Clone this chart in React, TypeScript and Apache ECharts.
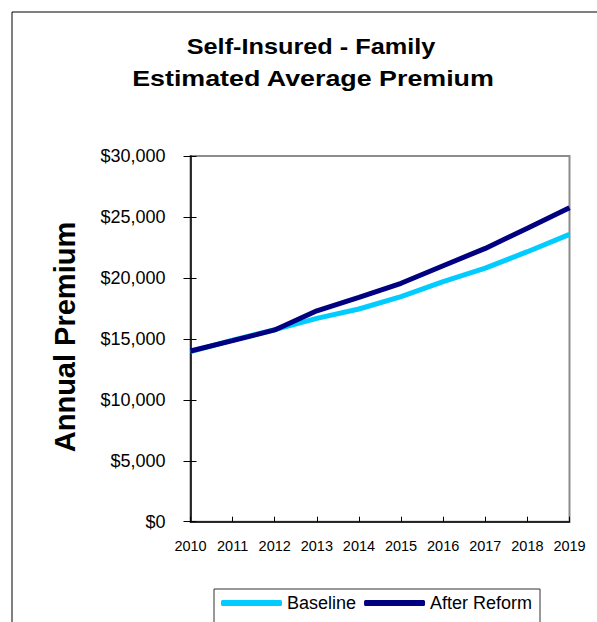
import React, { useEffect, useRef } from "react";
import * as echarts from "echarts";

const years = ["2010", "2011", "2012", "2013", "2014", "2015", "2016", "2017", "2018", "2019"];
const baseline = [13950, 14900, 15750, 16680, 17450, 18460, 19700, 20800, 22150, 23570];
const afterReform = [14000, 14850, 15730, 17300, 18400, 19560, 21000, 22420, 24070, 25760];
const titleLines = ["Self-Insured - Family", "Estimated Average Premium"];
const yTitle = "Annual Premium";
const seriesNames = ["Baseline", "After Reform"];

const FONT = "'Liberation Sans', Arial, sans-serif";

export default function App() {
  const ref = useRef<HTMLDivElement>(null);
  useEffect(() => {
    if (!ref.current) return;
    const chart = echarts.init(ref.current, null, { renderer: "svg" });
    const yAxisCommon = {
      type: "value",
      min: 0,
      max: 30000,
      interval: 5000,
      splitLine: { show: false },
    };
    chart.setOption({
      animation: false,
      backgroundColor: "#fff",
      grid: {
        left: 190.5,
        right: 27.5,
        top: 156,
        bottom: 100.3,
        show: true,
        borderColor: "#8c8c8c",
        borderWidth: 2,
        backgroundColor: "transparent",
      },
      xAxis: {
        type: "category",
        data: years,
        boundaryGap: false,
        axisLine: { lineStyle: { color: "#000", width: 1.5 } },
        axisTick: { inside: true, interval: 0, length: 5, lineStyle: { color: "#000", width: 1 } },
        axisLabel: {
          color: "#000",
          fontSize: 14.5,
          fontFamily: FONT,
          margin: 17,
          interval: 0,
          hideOverlap: false,
        },
        splitLine: { show: false },
      },
      yAxis: [
        {
          ...yAxisCommon,
          axisLine: { show: true, lineStyle: { color: "#000", width: 1.5 } },
          axisTick: { show: true, length: 7, lineStyle: { color: "#000", width: 1 } },
          axisLabel: {
            color: "#000",
            fontSize: 18,
            fontFamily: FONT,
            margin: 25,
            formatter: (v: number) => "$" + v.toLocaleString("en-US"),
          },
        },
        {
          ...yAxisCommon,
          position: "left",
          axisLine: { show: false },
          axisTick: { show: true, inside: true, length: 6, lineStyle: { color: "#000", width: 1 } },
          axisLabel: { show: false },
        },
      ],
      legend: {
        data: seriesNames,
        left: 221,
        top: 594,
        icon: "roundRect",
        itemWidth: 61,
        itemHeight: 6,
        itemGap: 8,
        padding: 0,
        textStyle: { color: "#000", fontSize: 18, fontFamily: FONT },
      },
      series: [
        {
          name: seriesNames[0],
          type: "line",
          data: baseline,
          showSymbol: false,
          color: "#00CCFF",
          lineStyle: { color: "#00CCFF", width: 5 },
        },
        {
          name: seriesNames[1],
          type: "line",
          data: afterReform,
          showSymbol: false,
          color: "#000080",
          lineStyle: { color: "#000080", width: 5 },
        },
      ],
      graphic: [
        {
          type: "rect",
          shape: { x: 12, y: 12, width: 700, height: 800 },
          style: { fill: "none", stroke: "#000", lineWidth: 1 },
          silent: true,
        },
        {
          type: "rect",
          shape: { x: 214, y: 589, width: 326, height: 80 },
          style: { fill: "none", stroke: "#333", lineWidth: 1 },
          silent: true,
        },
        {
          type: "text",
          x: 311,
          y: 47,
          scaleX: 1.15,
          style: {
            text: titleLines[0],
            align: "center",
            verticalAlign: "middle",
            fill: "#000",
            font: `bold 22px ${FONT}`,
          },
        },
        {
          type: "text",
          x: 313,
          y: 78,
          scaleX: 1.22,
          style: {
            text: titleLines[1],
            align: "center",
            verticalAlign: "middle",
            fill: "#000",
            font: `bold 22px ${FONT}`,
          },
        },
        {
          type: "text",
          x: 65,
          y: 337,
          rotation: Math.PI / 2,
          style: {
            text: yTitle,
            align: "center",
            verticalAlign: "middle",
            fill: "#000",
            font: `bold 29px ${FONT}`,
          },
        },
      ],
    });
    return () => chart.dispose();
  }, []);
  return (
    <div
      ref={ref}
      style={{ position: "absolute", left: 0, top: 0, width: 597, height: 622 }}
    />
  );
}
